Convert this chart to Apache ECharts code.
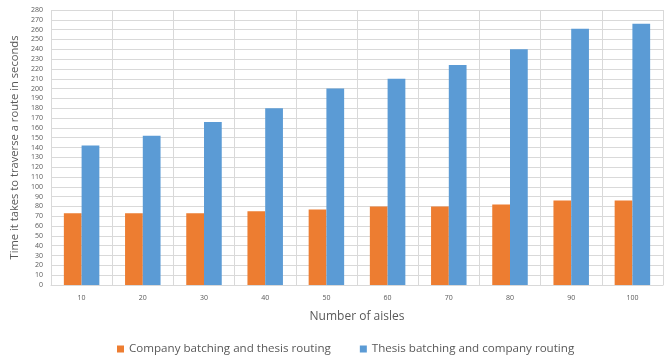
<!DOCTYPE html>
<html><head><meta charset="utf-8">
<script src="https://cdn.jsdelivr.net/npm/echarts@6/dist/echarts.min.js"></script>
<style>html,body{margin:0;padding:0;background:#fff}#c{width:665px;height:356px}</style>
</head><body><div id="c"></div>
<script>
const categories = ['10','20','30','40','50','60','70','80','90','100'];
const companyBatching = [73,73,73,75,77,80,80,82,86,86];
const thesisBatching = [142,152,166,180,200,210,224,240,261,266];
const seriesNames = ['Company batching and thesis routing','Thesis batching and company routing'];
const chart = echarts.init(document.getElementById('c'));
const font = 'Open Sans';
chart.setOption({
  animation:false,
  textStyle:{fontFamily:font},
  grid:{left:51,right:2,top:10,bottom:71},
  legend:{
    top:338, left:112, itemWidth:7, itemHeight:7, itemGap:29, icon:'rect',
    textStyle:{fontSize:11.6,color:'#595959',fontFamily:font},
    data:seriesNames
  },
  xAxis:{
    type:'category', data:categories,
    name:'Number of aisles', nameLocation:'middle', nameGap:26,
    nameTextStyle:{fontSize:12,color:'#595959',fontFamily:font},
    axisLine:{lineStyle:{color:'#d9d9d9',width:1}},
    axisTick:{show:false},
    axisLabel:{fontSize:7,color:'#595959',margin:9},
    splitLine:{show:true,lineStyle:{color:'#d9d9d9',width:1}}
  },
  yAxis:{
    type:'value', min:0, max:280, interval:10,
    name:'Time it takes to traverse a route in seconds', nameLocation:'middle', nameGap:25,
    nameTextStyle:{fontSize:11.2,color:'#595959',fontFamily:font},
    axisLine:{show:false}, axisTick:{show:false},
    axisLabel:{fontSize:7,color:'#595959',margin:8},
    splitLine:{lineStyle:{color:'#d9d9d9',width:1}}
  },
  series:[
    {name:seriesNames[0],type:'bar',data:companyBatching,barWidth:'29%',barGap:'0%',itemStyle:{color:'#ed7d31'}},
    {name:seriesNames[1],type:'bar',data:thesisBatching,barWidth:'29%',barGap:'0%',itemStyle:{color:'#5b9bd5'}}
  ]
});
</script></body></html>
